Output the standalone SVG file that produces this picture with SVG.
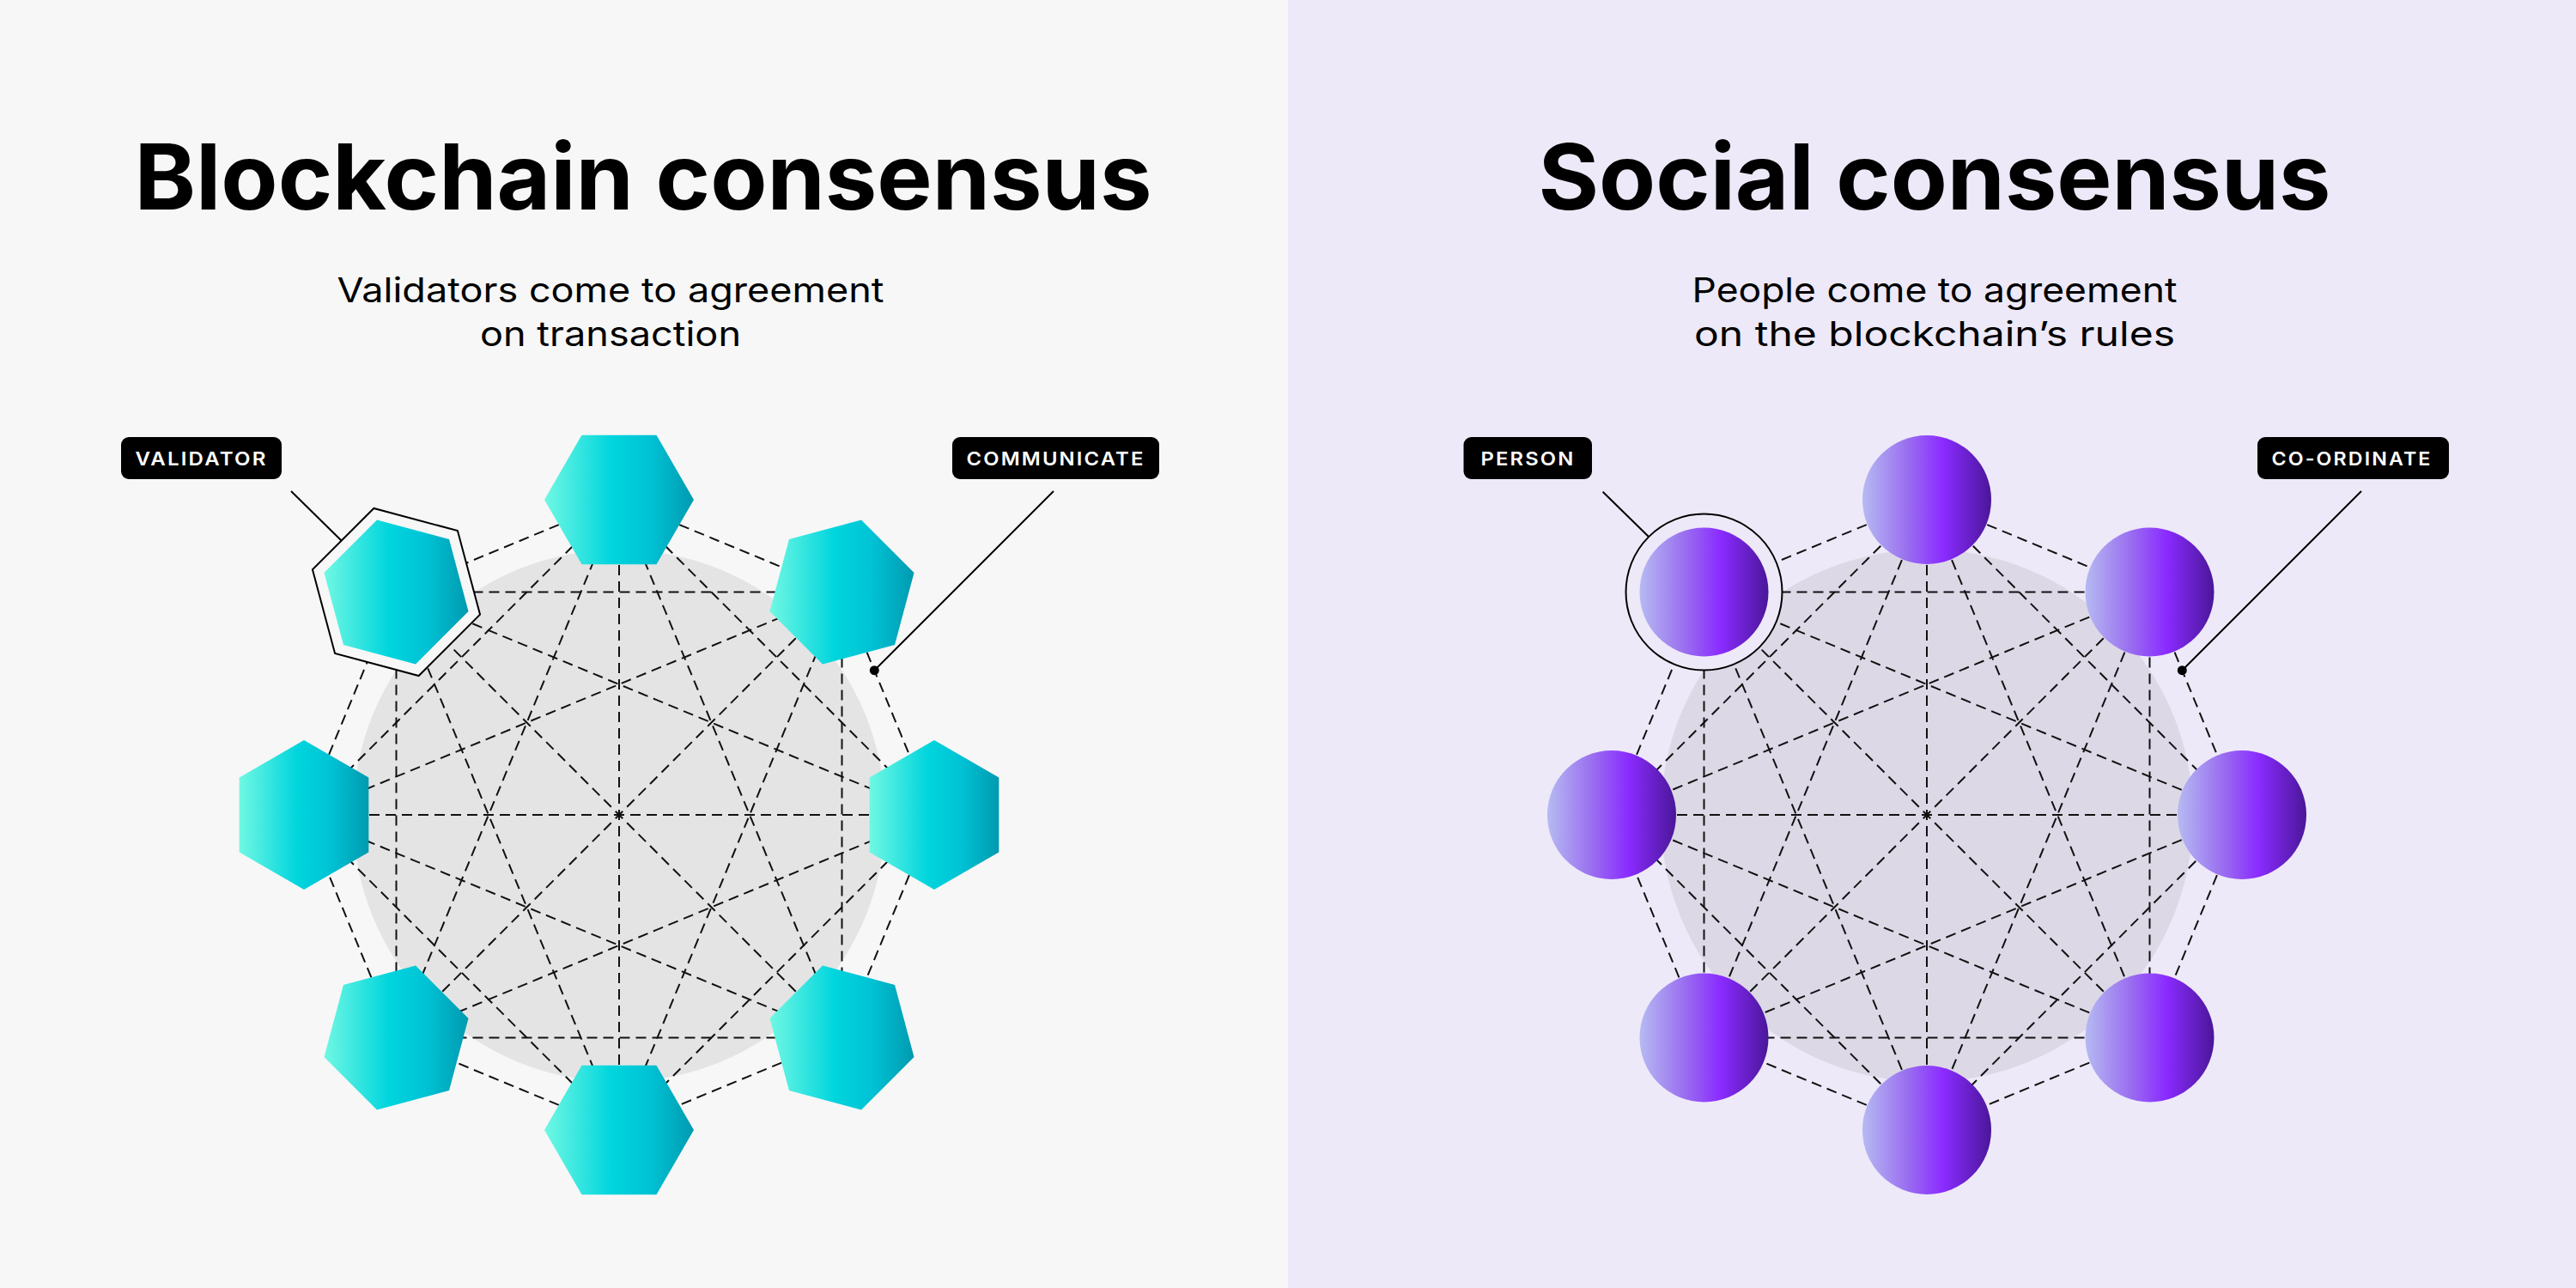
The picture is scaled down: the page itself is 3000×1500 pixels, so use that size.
<svg xmlns="http://www.w3.org/2000/svg" xmlns:xlink="http://www.w3.org/1999/xlink" width="3000" height="1500" viewBox="0 0 3000 1500">
  <style>
    .title { font-family: Inter, "Liberation Sans", sans-serif; font-weight: 700; font-size: 106px; fill: #000; text-anchor: middle; }
    .sub { font-family: Inter, "Liberation Sans", sans-serif; font-weight: 400; font-size: 40px; fill: #000; text-anchor: middle; }
    .tag { fill: #000; }
    .tagtext { font-family: Inter, "Liberation Sans", sans-serif; font-weight: 600; font-size: 22px; fill: #fff; text-anchor: middle; letter-spacing: 2px; }
    .edge { stroke: #111; stroke-width: 2; stroke-dasharray: 12 7; fill: none; }
    .leader { stroke: #000; stroke-width: 2; fill: none; }
    .hex { fill: url(#cyan); }
    .person { fill: url(#purple); }
  </style>
  <defs>
    <linearGradient id="cyan" x1="0" y1="0" x2="1" y2="0">
      <stop offset="0" stop-color="#70f8e3"/>
      <stop offset="0.45" stop-color="#00d5dd"/>
      <stop offset="0.7" stop-color="#00c3d5"/>
      <stop offset="1" stop-color="#009ab0"/>
    </linearGradient>
    <linearGradient id="purple" x1="0" y1="0" x2="1" y2="0">
      <stop offset="0" stop-color="#b6baf2"/>
      <stop offset="0.35" stop-color="#9a6ef0"/>
      <stop offset="0.63" stop-color="#8a2bff"/>
      <stop offset="1" stop-color="#4a1699"/>
    </linearGradient>
    <polygon id="hexA" class="hex" points="87,0 43.5,75.34 -43.5,75.34 -87,0 -43.5,-75.34 43.5,-75.34"/>
    <polygon id="hexB" class="hex" points="75.34,43.5 0,87 -75.34,43.5 -75.34,-43.5 0,-87 75.34,-43.5"/>
    <polygon id="hexC" class="hex" points="84.03,22.52 22.52,84.03 -61.52,61.52 -84.03,-22.52 -22.52,-84.03 61.52,-61.52"/>
    <polygon id="hexD" class="hex" points="61.52,61.52 -22.52,84.03 -84.03,22.52 -61.52,-61.52 22.52,-84.03 84.03,-22.52"/>
  </defs>

  <!-- backgrounds -->
  <rect x="0" y="0" width="1500" height="1500" fill="#f7f7f7"/>
  <rect x="1500" y="0" width="1500" height="1500" fill="#ede9f8"/>

  <!-- titles -->
  <text class="title" x="749" y="244" textLength="1185" lengthAdjust="spacingAndGlyphs">Blockchain consensus</text>
  <text class="sub" x="711" y="352" textLength="637" lengthAdjust="spacingAndGlyphs">Validators come to agreement</text>
  <text class="sub" x="711" y="403" textLength="304" lengthAdjust="spacingAndGlyphs">on transaction</text>

  <text class="title" x="2253" y="244" textLength="923" lengthAdjust="spacingAndGlyphs">Social consensus</text>
  <text class="sub" x="2253" y="352" textLength="565" lengthAdjust="spacingAndGlyphs">People come to agreement</text>
  <text class="sub" x="2253" y="403" textLength="560" lengthAdjust="spacingAndGlyphs">on the blockchain’s rules</text>

  <!-- discs -->
  <circle cx="721" cy="950" r="310" fill="#e4e4e4"/>
  <circle cx="2244" cy="950" r="310" fill="#dcd8e6"/>

  <!-- connectors -->
  <g id="connectors">
    <g id="connectors-left">
      <line class="edge" x1="721" y1="582" x2="980.5" y2="689.5"/>
      <line class="edge" x1="721" y1="582" x2="1088" y2="949"/>
      <line class="edge" x1="721" y1="582" x2="980.5" y2="1208.5"/>
      <line class="edge" x1="721" y1="582" x2="721" y2="1316"/>
      <line class="edge" x1="721" y1="582" x2="461.5" y2="1208.5"/>
      <line class="edge" x1="721" y1="582" x2="354" y2="949"/>
      <line class="edge" x1="721" y1="582" x2="461.5" y2="689.5"/>
      <line class="edge" x1="980.5" y1="689.5" x2="1088" y2="949"/>
      <line class="edge" x1="980.5" y1="689.5" x2="980.5" y2="1208.5"/>
      <line class="edge" x1="980.5" y1="689.5" x2="721" y2="1316"/>
      <line class="edge" x1="980.5" y1="689.5" x2="461.5" y2="1208.5"/>
      <line class="edge" x1="980.5" y1="689.5" x2="354" y2="949"/>
      <line class="edge" x1="980.5" y1="689.5" x2="461.5" y2="689.5"/>
      <line class="edge" x1="1088" y1="949" x2="980.5" y2="1208.5"/>
      <line class="edge" x1="1088" y1="949" x2="721" y2="1316"/>
      <line class="edge" x1="1088" y1="949" x2="461.5" y2="1208.5"/>
      <line class="edge" x1="1088" y1="949" x2="354" y2="949"/>
      <line class="edge" x1="1088" y1="949" x2="461.5" y2="689.5"/>
      <line class="edge" x1="980.5" y1="1208.5" x2="721" y2="1316"/>
      <line class="edge" x1="980.5" y1="1208.5" x2="461.5" y2="1208.5"/>
      <line class="edge" x1="980.5" y1="1208.5" x2="354" y2="949"/>
      <line class="edge" x1="980.5" y1="1208.5" x2="461.5" y2="689.5"/>
      <line class="edge" x1="721" y1="1316" x2="461.5" y2="1208.5"/>
      <line class="edge" x1="721" y1="1316" x2="354" y2="949"/>
      <line class="edge" x1="721" y1="1316" x2="461.5" y2="689.5"/>
      <line class="edge" x1="461.5" y1="1208.5" x2="354" y2="949"/>
      <line class="edge" x1="461.5" y1="1208.5" x2="461.5" y2="689.5"/>
      <line class="edge" x1="354" y1="949" x2="461.5" y2="689.5"/>
    </g>
    <g id="connectors-right" transform="translate(1523 0)">
      <line class="edge" x1="721" y1="582" x2="980.5" y2="689.5"/>
      <line class="edge" x1="721" y1="582" x2="1088" y2="949"/>
      <line class="edge" x1="721" y1="582" x2="980.5" y2="1208.5"/>
      <line class="edge" x1="721" y1="582" x2="721" y2="1316"/>
      <line class="edge" x1="721" y1="582" x2="461.5" y2="1208.5"/>
      <line class="edge" x1="721" y1="582" x2="354" y2="949"/>
      <line class="edge" x1="721" y1="582" x2="461.5" y2="689.5"/>
      <line class="edge" x1="980.5" y1="689.5" x2="1088" y2="949"/>
      <line class="edge" x1="980.5" y1="689.5" x2="980.5" y2="1208.5"/>
      <line class="edge" x1="980.5" y1="689.5" x2="721" y2="1316"/>
      <line class="edge" x1="980.5" y1="689.5" x2="461.5" y2="1208.5"/>
      <line class="edge" x1="980.5" y1="689.5" x2="354" y2="949"/>
      <line class="edge" x1="980.5" y1="689.5" x2="461.5" y2="689.5"/>
      <line class="edge" x1="1088" y1="949" x2="980.5" y2="1208.5"/>
      <line class="edge" x1="1088" y1="949" x2="721" y2="1316"/>
      <line class="edge" x1="1088" y1="949" x2="461.5" y2="1208.5"/>
      <line class="edge" x1="1088" y1="949" x2="354" y2="949"/>
      <line class="edge" x1="1088" y1="949" x2="461.5" y2="689.5"/>
      <line class="edge" x1="980.5" y1="1208.5" x2="721" y2="1316"/>
      <line class="edge" x1="980.5" y1="1208.5" x2="461.5" y2="1208.5"/>
      <line class="edge" x1="980.5" y1="1208.5" x2="354" y2="949"/>
      <line class="edge" x1="980.5" y1="1208.5" x2="461.5" y2="689.5"/>
      <line class="edge" x1="721" y1="1316" x2="461.5" y2="1208.5"/>
      <line class="edge" x1="721" y1="1316" x2="354" y2="949"/>
      <line class="edge" x1="721" y1="1316" x2="461.5" y2="689.5"/>
      <line class="edge" x1="461.5" y1="1208.5" x2="354" y2="949"/>
      <line class="edge" x1="461.5" y1="1208.5" x2="461.5" y2="689.5"/>
      <line class="edge" x1="354" y1="949" x2="461.5" y2="689.5"/>
    </g>
  </g>

  <!-- validators (left) -->
  <g id="validator-top"><use xlink:href="#hexA" href="#hexA" transform="translate(721 582)"/></g>
  <g id="validator-top-right"><use xlink:href="#hexD" href="#hexD" transform="translate(980.5 689.5)"/></g>
  <g id="validator-right"><use xlink:href="#hexB" href="#hexB" transform="translate(1088 949)"/></g>
  <g id="validator-bottom-right"><use xlink:href="#hexC" href="#hexC" transform="translate(980.5 1208.5)"/></g>
  <g id="validator-bottom"><use xlink:href="#hexA" href="#hexA" transform="translate(721 1316)"/></g>
  <g id="validator-bottom-left"><use xlink:href="#hexD" href="#hexD" transform="translate(461.5 1208.5)"/></g>
  <g id="validator-left"><use xlink:href="#hexB" href="#hexB" transform="translate(354 949)"/></g>
  <g id="validator-top-left">
    <polygon transform="translate(461.5 689.5)" points="97.56,26.14 26.14,97.56 -71.42,71.42 -97.56,-26.14 -26.14,-97.56 71.42,-71.42" fill="#f7f7f7" stroke="#000" stroke-width="2"/>
    <use xlink:href="#hexC" href="#hexC" transform="translate(461.5 689.5)"/>
  </g>

  <!-- people (right) -->
  <g id="person-top"><circle class="person" cx="2244" cy="582" r="75"/></g>
  <g id="person-top-right"><circle class="person" cx="2503.5" cy="689.5" r="75"/></g>
  <g id="person-right"><circle class="person" cx="2611" cy="949" r="75"/></g>
  <g id="person-bottom-right"><circle class="person" cx="2503.5" cy="1208.5" r="75"/></g>
  <g id="person-bottom"><circle class="person" cx="2244" cy="1316" r="75"/></g>
  <g id="person-bottom-left"><circle class="person" cx="1984.5" cy="1208.5" r="75"/></g>
  <g id="person-left"><circle class="person" cx="1877" cy="949" r="75"/></g>
  <g id="person-top-left">
    <circle cx="1984.5" cy="689.5" r="91" fill="#ede9f8" stroke="#000" stroke-width="2"/>
    <circle class="person" cx="1984.5" cy="689.5" r="75"/>
  </g>

  <!-- labels -->
  <g id="label-validator">
    <rect class="tag" x="141" y="509" width="187" height="49" rx="9"/>
    <text class="tagtext" x="234.5" y="541.5" textLength="154" lengthAdjust="spacingAndGlyphs">VALIDATOR</text>
    <line class="leader" x1="339" y1="572" x2="398" y2="630"/>
  </g>
  <g id="label-communicate">
    <rect class="tag" x="1109" y="509" width="241" height="49" rx="9"/>
    <text class="tagtext" x="1229.5" y="541.5" textLength="208" lengthAdjust="spacingAndGlyphs">COMMUNICATE</text>
    <line class="leader" x1="1227" y1="572" x2="1018.3" y2="780.7"/>
    <circle cx="1018.3" cy="780.7" r="5.5" fill="#000"/>
  </g>
  <g id="label-person">
    <rect class="tag" x="1704.5" y="509" width="149.5" height="49" rx="9"/>
    <text class="tagtext" x="1779.5" y="541.5" textLength="110" lengthAdjust="spacingAndGlyphs">PERSON</text>
    <line class="leader" x1="1866.6" y1="572.7" x2="1920.5" y2="625.5"/>
  </g>
  <g id="label-coordinate">
    <rect class="tag" x="2629" y="509" width="223" height="49" rx="9"/>
    <text class="tagtext" x="2739" y="541.5" textLength="187" lengthAdjust="spacingAndGlyphs">CO-ORDINATE</text>
    <line class="leader" x1="2750" y1="572" x2="2541.3" y2="780.7"/>
    <circle cx="2541.3" cy="780.7" r="5.5" fill="#000"/>
  </g>
</svg>
